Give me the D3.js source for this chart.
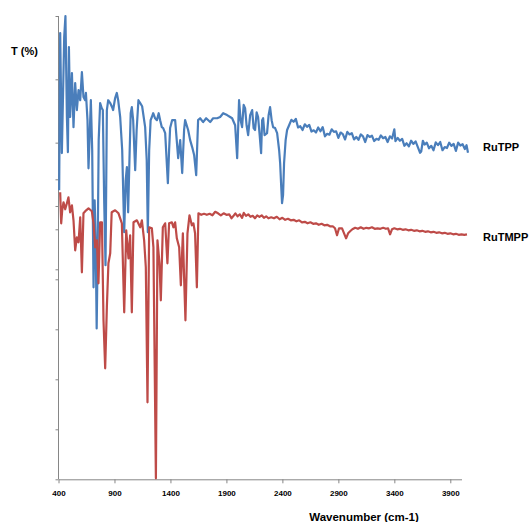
<!DOCTYPE html>
<html>
<head>
<meta charset="utf-8">
<title>RuTPP / RuTMPP IR spectra</title>
<script src="https://d3js.org/d3.v7.min.js"></script>
<style>
    body { margin: 0; background: #fff; }
    text { font-family: "Liberation Sans", Arial, sans-serif; font-weight: bold; fill: #000; }
    .axis path, .axis line { stroke: #868686; stroke-width: 1; }
</style>
</head>
<body>
<div id="chart"></div>
<script>
// x tick labels (wavenumber, cm-1)
const xTicks = [400, 900, 1400, 1900, 2400, 2900, 3400, 3900];

// RuTPP (blue) - wavenumber / T
const rutppWn = [406, 415, 430, 439, 451, 462, 475, 484, 493, 504, 520, 534, 549, 564, 579, 594, 609, 623, 638, 645,
    659, 668, 677, 689, 701, 713, 723, 732, 741, 750, 759, 772, 786, 796, 808, 820, 832, 844, 862, 879,
    888, 906, 921, 933, 951, 969, 987, 1000, 1011, 1022, 1036, 1045, 1055, 1067, 1085, 1098, 1114, 1130, 1147, 1174,
    1188, 1198, 1210, 1223, 1234, 1246, 1263, 1279, 1295, 1308, 1323, 1335, 1353, 1377, 1388, 1397, 1415, 1442, 1469, 1487,
    1505, 1522, 1531, 1558, 1576, 1594, 1612, 1630, 1647, 1665, 1692, 1719, 1755, 1781, 1817, 1844, 1871, 1906, 1933, 1951,
    1978, 1996, 2013, 2027, 2040, 2054, 2067, 2080, 2094, 2112, 2130, 2143, 2156, 2170, 2183, 2197, 2210, 2219, 2228, 2241,
    2263, 2277, 2290, 2304, 2317, 2335, 2353, 2371, 2380, 2389, 2397, 2406, 2415, 2429, 2442,
    2460, 2480, 2500, 2520, 2540, 2560, 2580, 2600, 2620, 2640, 2660, 2680, 2700, 2720, 2740, 2760, 2780, 2800, 2820, 2840,
    2860, 2880, 2900, 2920, 2940, 2960, 2980, 3000, 3020, 3040, 3060, 3080, 3100, 3120, 3140, 3160, 3180, 3200, 3220, 3240,
    3260, 3280, 3300, 3320, 3340, 3360, 3380, 3400, 3410, 3430, 3450, 3470, 3490, 3510, 3530, 3550, 3570, 3590, 3610, 3630,
    3640, 3655, 3670, 3690, 3710, 3730, 3750, 3770, 3790, 3810, 3830, 3850, 3870, 3890, 3910, 3930, 3950, 3970, 3990, 4010,
    4030, 4045, 4058];
const rutppT = [45.0, 94.6, 56.7, 72.5, 93.4, 100, 68.1, 57.0, 90.2, 68.1, 82.0, 64.9, 78.8, 70.3, 76.6, 73.4, 82.3, 74.4, 73.4, 75.7,
    67.1, 51.9, 60.8, 73.4, 57.6, 14.3, 41.8, 29.2, 1.3, 26.0, 60.8, 72.5, 70.9, 70.3, 41.8, 21.3, 70.3, 73.4, 72.5, 71.2,
    70.3, 74.1, 75.7, 73.4, 68.1, 57.6, 31.7, 48.1, 52.3, 38.0, 57.6, 69.3, 71.2, 67.1, 51.3, 64.0, 73.4, 72.5, 71.5, 64.9,
    54.5, 31.7, 57.6, 67.1, 68.1, 69.3, 67.7, 67.1, 69.3, 67.1, 64.9, 64.6, 63.0, 47.2, 57.6, 64.6, 67.1, 67.1, 55.1, 60.8,
    50.4, 64.0, 67.1, 64.0, 60.8, 58.6, 56.0, 49.7, 67.1, 67.7, 66.5, 67.7, 66.5, 67.7, 67.7, 68.1, 69.3, 68.7, 68.1, 67.7,
    65.5, 55.1, 73.4, 67.1, 64.9, 71.9, 70.9, 65.5, 62.4, 68.7, 70.3, 64.6, 64.0, 69.6, 68.1, 62.4, 56.7, 67.1, 67.7, 62.4,
    63.0, 68.7, 71.2, 67.1, 64.9, 64.6, 63.0, 57.6, 53.5, 46.6, 40.9, 43.4, 53.5, 60.8, 64.0,
    65.5, 67.2, 66.6, 67.5, 64.8, 65.2, 64.0, 65.8, 65.0, 65.6, 63.5, 63.9, 63.2, 64.8, 63.6, 64.9, 62.0, 62.8, 62.5, 64.2,
    63.4, 63.6, 61.5, 63.2, 62.7, 61.0, 63.4, 62.6, 63.0, 61.0, 61.8, 60.9, 62.6, 62.0, 60.2, 62.4, 61.8, 62.2, 60.5, 61.2,
    60.9, 62.3, 61.4, 61.8, 60.2, 62.0, 61.3, 64.2, 60.5, 61.5, 60.6, 61.2, 59.0, 59.8, 58.8, 60.6, 59.6, 60.4, 58.6, 56.8,
    57.2, 60.6, 59.4, 60.0, 58.2, 59.0, 57.6, 60.1, 59.2, 60.2, 57.6, 58.6, 58.3, 60.0, 59.0, 59.6, 57.4, 60.0, 59.1, 59.5,
    58.0, 59.2, 56.8];

// RuTMPP (red) - wavenumber / T
const rutmppWn = [415, 424, 433, 445, 460, 475, 489, 504, 520, 534, 549, 564, 579, 594, 609, 623, 647, 668, 698, 713,
    728, 743, 757, 772, 788, 802, 817, 832, 846, 862, 875, 906, 936, 966, 987, 1005, 1025, 1040, 1055, 1070,
    1100, 1130, 1145, 1165, 1180, 1195, 1210, 1234, 1248, 1270, 1284, 1302, 1314, 1332, 1353, 1373, 1388, 1413, 1427, 1442,
    1457, 1478, 1493, 1511, 1522, 1534, 1552, 1570, 1591, 1605, 1620, 1636,
    1650, 1675, 1700, 1725, 1750, 1775, 1800, 1825, 1850, 1875, 1900, 1925, 1945, 1960, 1980, 2000, 2020, 2040, 2055, 2075,
    2095, 2115, 2135, 2155, 2175, 2195, 2215, 2235, 2255, 2275, 2300, 2325, 2350, 2375, 2400, 2425, 2450, 2475, 2500, 2525,
    2550, 2575, 2600, 2625, 2650, 2675, 2700, 2725, 2750, 2775, 2800, 2825, 2850, 2870, 2888, 2906, 2933, 2951, 2969, 2987,
    3005, 3025, 3050, 3075, 3100, 3125, 3150, 3175, 3200, 3225, 3250, 3275, 3300, 3325, 3344, 3362, 3379, 3400, 3425, 3450,
    3475, 3500, 3525, 3550, 3575, 3600, 3625, 3650, 3675, 3700, 3725, 3750, 3775, 3800, 3825, 3850, 3875, 3900, 3925, 3950,
    3975, 4000, 4025, 4049];
const rutmppT = [57.4, 51.2, 53.8, 55.4, 54.0, 55.2, 56.4, 53.4, 54.8, 51.8, 45.8, 48.4, 47.4, 52.4, 41.4, 53.2, 53.8, 54.2, 53.6, 51.2,
    46.4, 47.8, 39.2, 51.4, 51.4, 31.8, 22.2, 34.4, 43.2, 45.2, 53.4, 53.8, 53.2, 51.2, 33.4, 49.8, 44.2, 48.8, 33.4, 51.4,
    51.8, 50.4, 51.8, 47.8, 42.4, 15.4, 50.4, 50.2, 46.4, 0.2, 47.8, 43.2, 35.8, 50.4, 51.2, 43.2, 51.2, 51.4, 50.4, 51.4,
    48.2, 46.4, 38.8, 49.2, 40.4, 31.8, 49.2, 52.8, 50.8, 51.2, 49.2, 38.4,
    53.2, 52.9, 53.1, 52.9, 53.1, 52.8, 53.5, 53.2, 52.8, 53.2, 52.9, 53.0, 52.2, 52.6, 53.2, 52.6, 53.0, 52.3, 53.3, 52.7,
    53.0, 52.5, 52.7, 52.2, 52.8, 52.5, 52.8, 52.3, 52.6, 52.2, 52.4, 52.2, 52.5, 52.0, 52.3, 51.9, 52.1, 51.8, 51.9, 51.6,
    51.8, 51.4, 51.5, 51.2, 51.4, 51.1, 51.2, 50.9, 51.1, 50.8, 50.9, 50.6, 50.6, 50.2, 48.8, 50.2, 50.2, 49.2, 48.2, 49.2,
    49.6, 50.0, 50.3, 50.1, 50.4, 50.1, 50.3, 50.2, 50.4, 50.1, 50.2, 50.1, 50.3, 50.1, 50.2, 49.0, 50.0, 50.2, 50.0, 50.1,
    49.9, 50.0, 49.8, 49.9, 49.7, 49.8, 49.6, 49.7, 49.5, 49.6, 49.4, 49.5, 49.3, 49.4, 49.2, 49.3, 49.1, 49.2, 49.0, 49.1,
    48.9, 49.0, 48.9, 49.0];

// y tick values for the two (unlabelled) overlaid axes
const rutppTicks = [20, 40, 60, 80, 100];
const rutmppTicks = [0, 10, 20, 30, 40, 50, 60];

const width = 531, height = 522;

const svg = d3.select("#chart")
    .append("svg")
    .attr("width", width)
    .attr("height", height);

const x = d3.scaleLinear().domain([400, 4000]).range([58.5, 461.5]);
const yBlue = d3.scaleLinear().domain([20, 100]).range([269.3, 16]);
const yRed = d3.scaleLinear().domain([0, 60]).range([479.3, 179.3]);

// y axes (ticks only, no labels)
svg.append("g")
    .attr("class", "axis")
    .attr("transform", "translate(58.5,0)")
    .call(d3.axisLeft(yBlue).tickValues(rutppTicks).tickSize(3).tickFormat(""))
    .call(g => g.select(".domain").remove());

svg.append("g")
    .attr("class", "axis")
    .attr("transform", "translate(58.5,0)")
    .call(d3.axisLeft(yRed).tickValues(rutmppTicks).tickSize(3).tickFormat(""))
    .call(g => g.select(".domain").remove());

svg.append("line")
    .attr("x1", 58.5).attr("x2", 58.5)
    .attr("y1", yBlue(100)).attr("y2", yRed(0))
    .attr("stroke", "#868686");

// x axis
const xAxis = svg.append("g")
    .attr("class", "axis")
    .attr("transform", "translate(0," + yRed(0) + ")")
    .call(d3.axisBottom(x).tickValues(xTicks).tickFormat(d3.format("d"))
        .tickSize(4).tickSizeOuter(0).tickPadding(7));

xAxis.selectAll("text")
    .style("font-size", "8px")
    .style("font-weight", "bold")
    .style("fill", "#000");

// lines
const lineBlue = d3.line()
    .x((d, i) => x(rutppWn[i]))
    .y(d => yBlue(d));

const lineRed = d3.line()
    .x((d, i) => x(rutmppWn[i]))
    .y(d => yRed(d));

svg.append("path")
    .datum(rutppT)
    .attr("fill", "none")
    .attr("stroke", "#4a7ebb")
    .attr("stroke-width", 2.2)
    .attr("stroke-linejoin", "round")
    .attr("d", lineBlue);

svg.append("path")
    .datum(rutmppT)
    .attr("fill", "none")
    .attr("stroke", "#be4b48")
    .attr("stroke-width", 2.2)
    .attr("stroke-linejoin", "round")
    .attr("d", lineRed);

// labels
svg.append("text")
    .attr("x", 11).attr("y", 55)
    .style("font-size", "11px")
    .text("T (%)");

svg.append("text")
    .attr("x", 483).attr("y", 151)
    .style("font-size", "11px")
    .text("RuTPP");

svg.append("text")
    .attr("x", 483).attr("y", 241)
    .style("font-size", "11px")
    .text("RuTMPP");

svg.append("text")
    .attr("x", 364).attr("y", 521)
    .attr("text-anchor", "middle")
    .style("font-size", "11.5px")
    .text("Wavenumber (cm-1)");
</script>
</body>
</html>
